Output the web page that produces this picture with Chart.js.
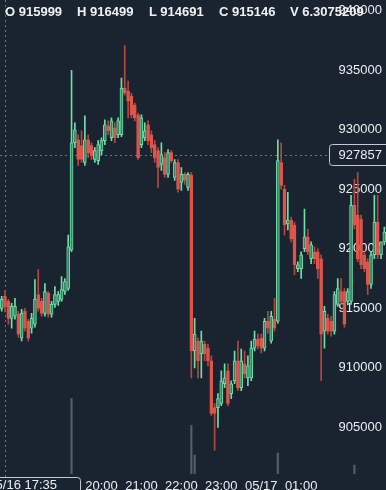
<!DOCTYPE html>
<html>
<head>
<meta charset="utf-8">
<script src="https://cdn.jsdelivr.net/npm/chart.js@4/dist/chart.umd.min.js"></script>
<style>
  body { margin: 0; background: #1a2430; }
  #wrap { position: relative; width: 386px; height: 490px; overflow: hidden; }
  #legend { position: absolute; left: 0; top: 0; height: 24px; width: 386px;
    font: bold 13px "Liberation Sans", Arial, sans-serif; color: #f2f2f2; line-height: 24px; }
  #legend span { position: absolute; top: 0; white-space: nowrap; }
</style>
</head>
<body>
<div id="wrap">
  <canvas id="my-chart" width="386" height="490"></canvas>
  <div id="legend"></div>
</div>
<script>
'use strict';

// ******** DATA *******

// 5 minute candles, 05/16 17:30 -> 05/17 03:05
let opens = [
  915000, 915999, 915580, 914160, 914330, 914500, 912500, 914750, 913910, 913330,
  913660, 916160, 915580, 914580, 916250, 914500, 915330, 915580, 915750, 916410,
  916660, 919910, 928910, 929160, 928660, 927250, 929160, 928660, 927500, 927410,
  928250, 929080, 930330, 929330, 930160, 929580, 929580, 933500, 933250, 932830,
  932080, 931250, 928750, 929330, 930410, 929580, 928750, 928250, 927080, 927660,
  926250, 928080, 926000, 927250, 925580, 926250, 925160, 926160, 911410, 912250,
  911160, 912000, 911660, 910580, 906660, 906660, 907000, 908660, 909750, 907830,
  908910, 910580, 908330, 910330, 909160, 909160, 911660, 912410, 912500, 911660,
  913910, 912250, 914080, 913910, 927250, 925000, 922080, 922410, 922000, 918330,
  918330, 920000, 921000, 919160, 919750, 919750, 919160, 913080, 914160, 913910,
  913080, 915330, 916410, 916410, 915580, 915580, 923660, 922830, 922500, 919500,
  918910, 917000, 919500, 922250, 919500, 920580
];
let highs = [
  916000, 916499, 915750, 915410, 915830, 914750, 914910, 915000, 914080, 914580,
  917410, 918250, 915830, 917080, 916410, 915580, 916830, 916410, 917660, 917500,
  921160, 935000, 930580, 929580, 929910, 931160, 929580, 928910, 928500, 929080,
  929330, 930830, 930750, 931000, 930580, 931000, 934330, 937080, 934080, 933080,
  932250, 931410, 931250, 930580, 930750, 929910, 929080, 928500, 928910, 928080,
  928330, 928250, 927500, 927500, 926830, 926410, 926410, 926410, 914160, 912500,
  913080, 912250, 912000, 911000, 907000, 907830, 909750, 910330, 910330, 908910,
  911410, 912250, 911580, 911410, 911000, 912250, 913080, 912830, 912830, 914160,
  914750, 914750, 915830, 929160, 928910, 925330, 924750, 922660, 922250, 918910,
  919750, 923330, 921660, 920580, 920160, 920000, 919500, 915160, 914500, 914330,
  916410, 917500, 917500, 916660, 916660, 924500, 925830, 926410, 922830, 919750,
  919160, 919750, 924500, 924500, 920580, 921830
];
let lows = [
  914750, 914691, 913660, 913330, 914080, 912580, 912250, 913080, 912250, 912910,
  913410, 914750, 914330, 914330, 914250, 914250, 915080, 915250, 915580, 916160,
  916500, 919750, 928500, 927000, 927250, 927000, 927660, 927500, 927250, 927080,
  927910, 928750, 929580, 929080, 928910, 929330, 929410, 932910, 931000, 931000,
  930750, 927500, 928500, 929080, 928750, 928080, 927250, 925160, 926580, 926000,
  926000, 927250, 925750, 924750, 924910, 925410, 924910, 909160, 910000, 909160,
  909160, 910580, 910160, 906000, 903080, 905000, 906830, 908330, 906830, 907410,
  908660, 908080, 908080, 909160, 908500, 908910, 911410, 911580, 911250, 911410,
  912910, 912080, 913080, 913750, 925000, 921160, 921580, 920580, 917830, 918080,
  917500, 919750, 919500, 918750, 918750, 917500, 908910, 911660, 912830, 912660,
  912830, 915160, 915330, 913410, 915330, 915330, 921660, 918910, 918330, 918080,
  916160, 916660, 919160, 919160, 919160, 920330
];
let closes = [
  915750, 915146, 914160, 915160, 915160, 912830, 914580, 913330, 912500, 914160,
  915750, 915000, 914580, 916410, 914500, 915330, 916160, 916160, 916580, 917250,
  920160, 928910, 930000, 927500, 927500, 929160, 928080, 927830, 928250, 928750,
  929080, 930410, 929910, 930750, 929330, 930750, 933500, 933080, 932410, 931250,
  931000, 927660, 931000, 929910, 929080, 928500, 927660, 926830, 927910, 926250,
  928080, 927410, 927250, 925000, 926250, 925750, 926250, 911410, 912830, 910580,
  912250, 911160, 910580, 906160, 906160, 907410, 908910, 909160, 907000, 908660,
  910580, 908330, 910580, 909500, 910160, 911660, 912410, 911830, 911660, 913910,
  913330, 914330, 913330, 927410, 925330, 922000, 922410, 920830, 918660, 918660,
  919500, 921000, 919750, 920330, 919160, 918330, 912830, 914750, 913080, 913080,
  916160, 916660, 915580, 913660, 916410, 923660, 922000, 919160, 918660, 918330,
  917000, 919500, 922250, 919500, 920580, 921410
];
let volumes = [
  5, 6.3075209, 4, 3, 5, 7, 4, 3, 6, 4,
  8, 6, 3, 5, 4, 3, 4, 2, 5, 6,
  11, 92, 9, 7, 5, 8, 4, 3, 4, 5,
  6, 7, 4, 5, 4, 6, 10, 11, 8, 6,
  5, 9, 7, 4, 5, 6, 5, 8, 6, 5,
  6, 4, 5, 7, 4, 3, 5, 65, 35, 9,
  8, 5, 6, 11, 10, 7, 8, 5, 7, 4,
  6, 8, 6, 5, 4, 6, 5, 4, 5, 6,
  5, 7, 6, 37, 11, 9, 6, 5, 8, 4,
  5, 7, 5, 4, 3, 6, 12, 7, 5, 4,
  3, 5, 4, 6, 3, 12, 25, 8, 13, 5,
  6, 5, 10, 8, 4, 3
];

// time axis
let startDay = '05/16';
let nextDay = '05/17';
let startMinutes = 17 * 60 + 30;
let tickIndexes = [30, 42, 54, 66, 78, 90];
let tickLabels = ['20:00', '21:00', '22:00', '23:00', '05/17', '01:00'];

// price axis (plot area is 474px tall, about 83.3 per pixel)
let priceTicks = [905000, 910000, 915000, 920000, 925000, 930000, 935000, 940000];
let priceMin = 901080;
let priceMax = 940580;

// crosshair
let crossIndex = 1;
let crossPrice = 927857;

// ******** COLORS *******
let bg = '#1a2430';
let upBorder = '#6fdfa8';
let upFill = '#3c7f63';
let downFill = '#df554b';
let downWick = '#b9463f';
let textColor = '#eceef0';

// category labels, one per candle
let times = [];
for (let i = 0; i < opens.length; i++) {
  let m = startMinutes + i * 5;
  let day = m >= 24 * 60 ? nextDay : startDay;
  m = m % (24 * 60);
  let hh = String(Math.floor(m / 60)).padStart(2, '0');
  let mm = String(m % 60).padStart(2, '0');
  times.push(`${day} ${hh}:${mm}`);
}

// OHLC legend for the hovered candle
let legend = document.getElementById('legend');
let legendItems = [
  ['O', opens[crossIndex], 5],
  ['H', highs[crossIndex], 77],
  ['L', lows[crossIndex], 149],
  ['C', closes[crossIndex], 219],
  ['V', volumes[crossIndex], 290]
];
for (let i = 0; i < legendItems.length; i++) {
  let span = document.createElement('span');
  span.textContent = `${legendItems[i][0]} ${legendItems[i][1]}`;
  span.style.left = legendItems[i][2] + 'px';
  legend.appendChild(span);
}

let isUp = opens.map((o, i) => closes[i] >= o);

// ******** CROSSHAIR PLUGIN *******
function roundBox(ctx, x, y, w, h, r) {
  ctx.beginPath();
  ctx.roundRect(x, y, w, h, r);
  ctx.fillStyle = bg;
  ctx.fill();
  ctx.strokeStyle = '#c5cacf';
  ctx.lineWidth = 1;
  ctx.stroke();
}

let crosshair = {
  id: 'crosshair',
  beforeDatasetsDraw(chart) {
    let ctx = chart.ctx;
    let cx = Math.round(chart.scales.x.getPixelForValue(crossIndex)) + 0.5;
    let cy = Math.round(chart.scales.y.getPixelForValue(crossPrice)) + 0.5;
    ctx.save();
    ctx.strokeStyle = '#6c7681';
    ctx.lineWidth = 1;
    ctx.setLineDash([2, 3]);
    ctx.beginPath();
    ctx.moveTo(0, cy);
    ctx.lineTo(330, cy);
    ctx.moveTo(cx, 0);
    ctx.lineTo(cx, 478);
    ctx.stroke();
    ctx.restore();
  },
  afterDraw(chart) {
    let ctx = chart.ctx;
    let cy = Math.round(chart.scales.y.getPixelForValue(crossPrice));
    ctx.save();
    ctx.font = '13px "Liberation Sans", Arial, sans-serif';
    ctx.textBaseline = 'middle';

    roundBox(ctx, 329.5, cy - 10.5, 64, 21, 3);
    ctx.fillStyle = textColor;
    ctx.textAlign = 'right';
    ctx.fillText(String(crossPrice), 382, cy);

    roundBox(ctx, -20.5, 477.5, 101, 20, 3);
    ctx.fillStyle = textColor;
    ctx.fillText(times[crossIndex], 57, 485);
    ctx.restore();
  }
};

// ******** CHART *******
let ctx = document.getElementById('my-chart');

let chartObject = {
  type: 'bar',
  data: {
    labels: times,
    datasets: [{
      label: 'Body',
      data: opens.map((o, i) => [o, closes[i]]),
      yAxisID: 'y',
      backgroundColor: isUp.map(u => u ? upFill : downFill),
      borderColor: isUp.map(u => u ? upBorder : downFill),
      borderWidth: 1,
      borderSkipped: false,
      barThickness: 3,
      minBarLength: 1,
      grouped: false,
      order: 0
    },
    {
      label: 'Wick',
      data: lows.map((l, i) => [l, highs[i]]),
      yAxisID: 'y',
      backgroundColor: isUp.map(u => u ? upBorder : downWick),
      barThickness: 1,
      grouped: false,
      order: 1
    },
    {
      label: 'Volume',
      data: volumes.map(v => [0, v]),
      yAxisID: 'yv',
      backgroundColor: '#545d68',
      barThickness: 1.5,
      grouped: false,
      order: 2
    }]
  },
  options: {
    responsive: false,
    animation: false,
    events: [],
    layout: { padding: 0 },
    plugins: {
      legend: { display: false },
      tooltip: { enabled: false }
    },
    scales: {
      x: {
        offset: true,
        grid: { display: false },
        border: { display: false },
        afterFit(scale) { scale.height = 16; },
        afterBuildTicks(scale) { scale.ticks = tickIndexes.map(v => ({ value: v })); },
        ticks: {
          autoSkip: false,
          maxRotation: 0,
          padding: -3,
          color: textColor,
          font: { family: '"Liberation Sans", Arial, sans-serif', size: 13 },
          callback: function (value) {
            return tickLabels[tickIndexes.indexOf(value)];
          }
        }
      },
      y: {
        position: 'right',
        min: priceMin,
        max: priceMax,
        grid: { display: false },
        border: { display: false },
        afterFit(scale) { scale.width = 0; },
        afterBuildTicks(scale) { scale.ticks = priceTicks.map(v => ({ value: v })); },
        ticks: {
          mirror: true,
          padding: -4,
          color: textColor,
          font: { family: '"Liberation Sans", Arial, sans-serif', size: 13 },
          callback: v => String(v)
        }
      },
      // volume: 1 unit per pixel, zero sits at the bottom edge of the canvas
      yv: {
        display: false,
        min: 16,
        max: 490
      }
    }
  },
  plugins: [crosshair]
};

const myChart = new Chart(ctx, chartObject);
</script>
</body>
</html>
